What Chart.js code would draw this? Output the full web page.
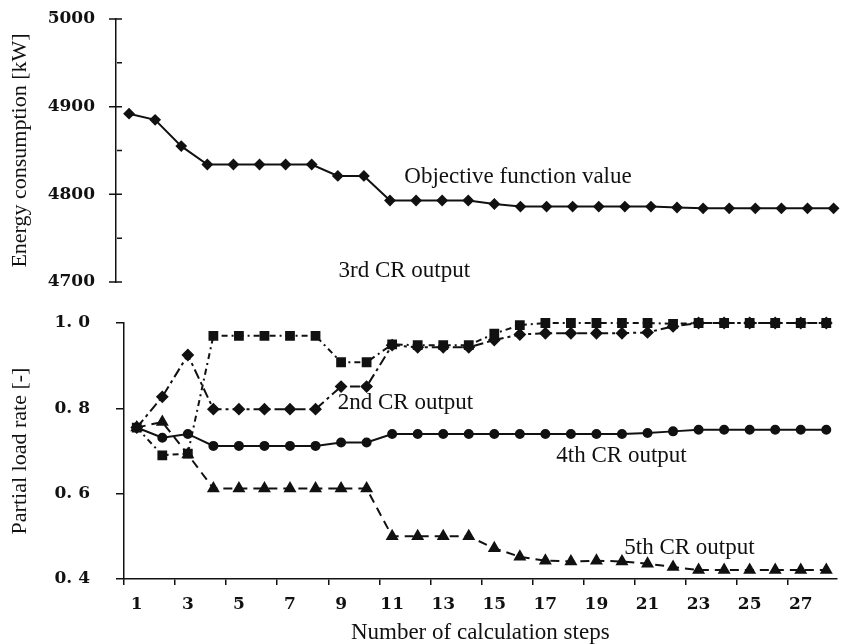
<!DOCTYPE html>
<html>
<head>
<meta charset="utf-8">
<script src="https://cdn.jsdelivr.net/npm/chart.js@4"></script>
<style>
  html, body { margin: 0; padding: 0; background: #fff; overflow: hidden; }
  #wrap { position: relative; width: 844px; height: 644px; }
  #wrap canvas { position: absolute; left: 0; top: 0; }
</style>
</head>
<body>
<div id="wrap">
  <canvas id="energy" width="844" height="644"></canvas>
  <canvas id="load" width="844" height="644"></canvas>
</div>
<script>
// Calculation steps
const steps = [1, 2, 3, 4, 5, 6, 7, 8, 9, 10, 11, 12, 13, 14, 15, 16, 17, 18, 19, 20, 21, 22, 23, 24, 25, 26, 27, 28];
const stepLabels = [1, 3, 5, 7, 9, 11, 13, 15, 17, 19, 21, 23, 25, 27];

// Objective function value, energy consumption [kW]
const objective = [4892, 4885, 4855, 4834, 4834, 4834, 4834, 4834, 4821, 4821, 4793, 4793, 4793, 4793, 4789,
  4786, 4786, 4786, 4786, 4786, 4786, 4785, 4784, 4784, 4784, 4784, 4784, 4784];
const energyTicks = [4700, 4800, 4900, 5000];

// Partial load rate of each CR [-]
const cr2Load = [0.755, 0.827, 0.925, 0.798, 0.798, 0.798, 0.798, 0.798, 0.851, 0.851, 0.948, 0.943, 0.943, 0.943,
  0.960, 0.973, 0.976, 0.976, 0.976, 0.976, 0.978, 0.992, 1.0, 1.0, 1.0, 1.0, 1.0, 1.0];
const cr3Load = [0.755, 0.690, 0.694, 0.970, 0.970, 0.970, 0.970, 0.970, 0.908, 0.908, 0.950, 0.948, 0.948, 0.948,
  0.975, 0.995, 1.0, 1.0, 1.0, 1.0, 1.0, 0.998, 1.0, 1.0, 1.0, 1.0, 1.0, 1.0];
const cr4Load = [0.755, 0.731, 0.740, 0.712, 0.712, 0.712, 0.712, 0.712, 0.720, 0.720, 0.740, 0.740, 0.740, 0.740,
  0.740, 0.740, 0.740, 0.740, 0.740, 0.740, 0.742, 0.746, 0.750, 0.750, 0.750, 0.750, 0.750, 0.750];
const cr5Load = [0.755, 0.768, 0.692, 0.612, 0.612, 0.612, 0.612, 0.612, 0.612, 0.612, 0.500, 0.500, 0.500, 0.500,
  0.472, 0.452, 0.443, 0.441, 0.443, 0.441, 0.436, 0.428, 0.421, 0.421, 0.421, 0.421, 0.421, 0.421];
const loadTicks = [0.4, 0.6, 0.8, 1.0];

const INK = '#111';
const tickFont = { family: '"DejaVu Serif", serif', size: 17, weight: 'bold' };
const titleFont = { family: '"Liberation Serif", "Times New Roman", serif', size: 22 };

// text labels placed in data units (step, value)
const energyNotes = [
  { text: 'Objective function value', step: 11.55, value: 4820 }
];
const loadNotes = [
  { text: '3rd CR output', step: 8.9, value: 1.123 },
  { text: '2nd CR output', step: 8.87, value: 0.8125 },
  { text: '4th CR output', step: 17.43, value: 0.688 },
  { text: '5th CR output', step: 20.09, value: 0.473 }
];

const notesPlugin = {
  id: 'notes',
  afterDraw(chart, args, opts) {
    const { ctx, scales: { x, y } } = chart;
    ctx.save();
    ctx.font = '23px "Liberation Serif", "Times New Roman", serif';
    ctx.fillStyle = INK;
    ctx.textBaseline = 'middle';
    (opts.items || []).forEach(n => {
      ctx.fillText(n.text, x.getPixelForValue(n.step), y.getPixelForValue(n.value));
    });
    ctx.restore();
  }
};

// tick marks that cross the energy axis (long on the hundreds, short in between)
const crossTicks = {
  id: 'crossTicks',
  afterDraw(chart) {
    const { ctx, scales: { y }, chartArea } = chart;
    const x0 = chartArea.left;
    ctx.save();
    ctx.strokeStyle = INK;
    ctx.lineWidth = 1.5;
    ctx.beginPath();
    y.ticks.forEach(t => {
      const py = y.getPixelForValue(t.value);
      const major = energyTicks.includes(t.value);
      ctx.moveTo(major ? x0 - 7 : x0 + 1, py);
      ctx.lineTo(x0 + 6, py);
    });
    ctx.stroke();
    ctx.restore();
  }
};

const points = arr => steps.map((s, i) => ({ x: s, y: arr[i] }));

new Chart(document.getElementById('energy'), {
  type: 'line',
  data: {
    datasets: [{
      data: points(objective),
      borderColor: INK,
      borderWidth: 2,
      pointStyle: 'rectRot',
      pointRadius: 4.5,
      pointBackgroundColor: INK,
      pointBorderColor: INK,
      tension: 0,
      clip: false
    }]
  },
  options: {
    responsive: false,
    animation: false,
    events: [],
    layout: { padding: { top: 19, bottom: 362, left: 0, right: 0 } },
    plugins: {
      legend: { display: false },
      tooltip: { enabled: false },
      notes: { items: energyNotes }
    },
    scales: {
      x: { type: 'linear', display: false, min: 0.5, max: 28.15 },
      y: {
        min: 4700,
        max: 5000,
        afterFit(s) { s.width = 116; },
        border: { color: INK, width: 1.5 },
        // invisible tick marks keep the labels clear of the crossing ticks
        grid: { drawOnChartArea: false, drawTicks: true, tickLength: 14, tickColor: 'rgba(0,0,0,0)' },
        ticks: {
          stepSize: 50,
          padding: 7,
          color: INK,
          font: tickFont,
          callback: v => energyTicks.includes(v) ? String(v) : ''
        },
        title: {
          display: true,
          text: 'Energy consumption [kW]',
          color: INK,
          font: titleFont,
          padding: { top: 7, bottom: 0 }
        }
      }
    }
  },
  plugins: [crossTicks, notesPlugin]
});

const series = (data, style, radius, dash) => ({
  data: points(data),
  borderColor: INK,
  borderWidth: 2,
  borderDash: dash,
  pointStyle: style,
  pointRadius: radius,
  pointBackgroundColor: INK,
  pointBorderColor: INK,
  tension: 0,
  clip: false
});

new Chart(document.getElementById('load'), {
  type: 'line',
  data: {
    datasets: [
      series(cr3Load, 'rect', 5.5, [6, 4, 2, 4]),
      series(cr2Load, 'rectRot', 5, [10, 4, 3, 4]),
      series(cr4Load, 'circle', 4, []),
      series(cr5Load, 'triangle', 5.5, [9, 6])
    ]
  },
  options: {
    responsive: false,
    animation: false,
    events: [],
    layout: { padding: { top: 323, bottom: 0, left: 0, right: 0 } },
    plugins: {
      legend: { display: false },
      tooltip: { enabled: false },
      notes: { items: loadNotes }
    },
    scales: {
      x: {
        type: 'linear',
        min: 0.5,
        max: 28.4,
        afterFit(s) { s.height = 65; },
        afterBuildTicks(s) { s.ticks = steps.map(v => ({ value: v })); },
        border: { color: INK, width: 1.5 },
        grid: {
          offset: true,
          drawOnChartArea: false,
          tickLength: 6,
          lineWidth: 1.5,
          tickColor: c => (c.tick && stepLabels.includes(c.tick.value)) ? INK : 'rgba(0,0,0,0)'
        },
        ticks: {
          autoSkip: false,
          maxRotation: 0,
          padding: 9,
          color: INK,
          font: tickFont,
          callback: v => stepLabels.includes(v) ? String(v) : ''
        },
        title: {
          display: true,
          text: 'Number of calculation steps',
          color: INK,
          font: { family: titleFont.family, size: 23, lineHeight: 1 },
          padding: { top: 0, bottom: 0 }
        }
      },
      y: {
        min: 0.4,
        max: 1.0,
        afterFit(s) { s.width = 124; },
        afterBuildTicks(s) { s.ticks = loadTicks.map(v => ({ value: v })); },
        border: { color: INK, width: 1.5 },
        grid: { drawOnChartArea: false, tickLength: 8, lineWidth: 1.5, tickColor: INK },
        ticks: {
          padding: 26,
          color: INK,
          font: tickFont,
          callback: v => v.toFixed(1).replace('.', '. ')
        },
        title: {
          display: true,
          text: 'Partial load rate [-]',
          color: INK,
          font: titleFont,
          padding: { top: 7, bottom: 0 }
        }
      }
    }
  },
  plugins: [notesPlugin]
});
</script>
</body>
</html>
